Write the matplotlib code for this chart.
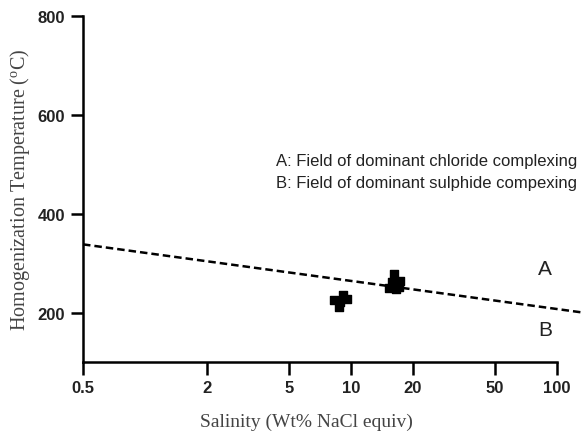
import matplotlib
matplotlib.use("Agg")
import matplotlib.pyplot as plt

# fluid inclusion data
salinity_1 = [9.2, 8.3, 8.8, 9.6, 8.9]
temp_1 = [235, 225, 212, 227, 222]
salinity_2 = [16.2, 17.4, 15.3, 16.5, 15.9, 17.1]
temp_2 = [278, 264, 249, 247, 262, 251]

# boundary between chloride and sulphide complexing fields
boundary_x = [0.5, 134]
boundary_y = [338, 200]

xticks = [0.5, 2, 5, 10, 20, 50, 100]
xtick_labels = ["0.5", "2", "5", "10", "20", "50", "100"]
yticks = [200, 400, 600, 800]

fig = plt.figure(figsize=(5.83, 4.35), dpi=100)
ax = fig.add_axes([83 / 583, 0.1655, 500 / 583, 0.7955])

ax.plot(boundary_x, boundary_y, ls=(0, (3, 1.6)), color="black", lw=1.8, clip_on=False)
ax.scatter(salinity_1, temp_1, marker="s", s=26, color="black", zorder=3)
ax.scatter(salinity_2, temp_2, marker="s", s=26, color="black", zorder=3)

ax.set_xscale("log")
ax.set_xlim(0.5, 134)
ax.set_ylim(100, 800)

for side in ["top", "right"]:
    ax.spines[side].set_visible(False)
ax.spines["left"].set_linewidth(1.8)
ax.spines["bottom"].set_linewidth(1.8)
ax.spines["bottom"].set_bounds(0.5, 100)

ax.set_xticks(xticks)
ax.set_xticklabels(xtick_labels)
ax.minorticks_off()
ax.set_yticks(yticks)
ax.tick_params(axis="both", width=1.8, length=9, labelsize=12, pad=4)
for lab in ax.get_xticklabels() + ax.get_yticklabels():
    lab.set_fontweight("bold")
    lab.set_family("Liberation Sans")
    lab.set_color("#222222")

ax.set_xlabel("Salinity (Wt% NaCl equiv)", family="Liberation Serif", fontsize=14,
              color="#444444", labelpad=13, x=0.446)
ax.set_ylabel("Homogenization Temperature ($\\mathregular{^{o}}$C)", family="Liberation Serif",
              fontsize=14.5, color="#444444", labelpad=4)

ax.text(0.385, 0.605, "A: Field of dominant chloride complexing\nB: Field of dominant sulphide compexing",
        transform=ax.transAxes, family="Liberation Sans", fontsize=12, color="#222222",
        linespacing=1.65, va="top")
ax.text(0.924, 0.269, "A", transform=ax.transAxes, family="Liberation Sans", fontsize=15,
        color="#222222", ha="center", va="center")
ax.text(0.924, 0.095, "B", transform=ax.transAxes, family="Liberation Sans", fontsize=15,
        color="#222222", ha="center", va="center")

plt.savefig("out.png", dpi=100)
